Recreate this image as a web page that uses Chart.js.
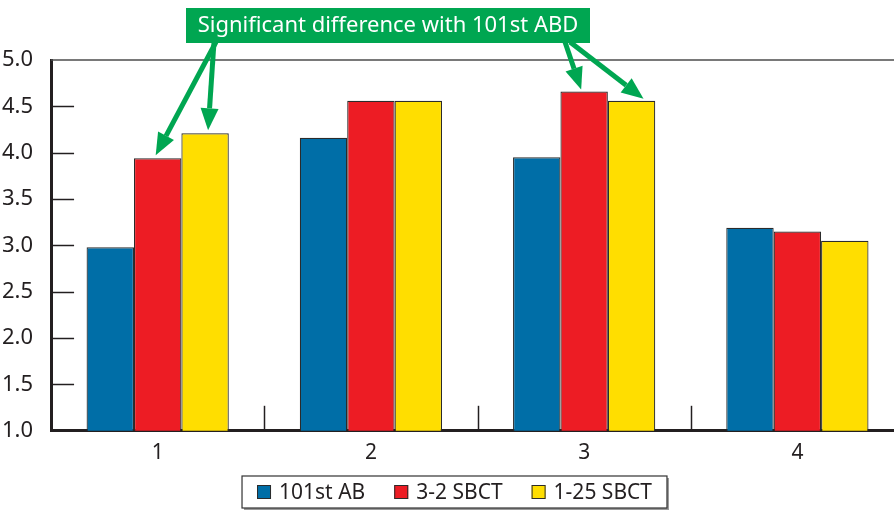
<!DOCTYPE html>
<html>
<head>
<meta charset="utf-8">
<script src="https://cdn.jsdelivr.net/npm/chart.js@4.4.1/dist/chart.umd.min.js"></script>
<style>
  html, body { margin: 0; padding: 0; background: #fff; overflow: hidden; }
  #wrap { width: 894px; height: 510px; overflow: hidden; }
</style>
</head>
<body>
<div id="wrap">
  <canvas id="js--chart" width="904" height="510" style="width:904px;height:510px"></canvas>
</div>
<script>
const categories = ["1", "2", "3", "4"];
const seriesNames = ["101st AB", "3-2 SBCT", "1-25 SBCT"];
const ab101 = [2.98, 4.16, 3.95, 3.19];
const sbct32 = [3.94, 4.56, 4.66, 3.15];
const sbct125 = [4.21, 4.56, 4.56, 3.05];
const noteText = "Significant difference with 101st ABD";

const ink = "#231f20";
const green = "#00a651";
const font = "'Noto Sans'";

// inward ticks on y, boundary ticks on x, thin top line
const axisExtras = {
  id: "axisExtras",
  afterDraw(chart) {
    const ctx = chart.ctx;
    const area = chart.chartArea;
    const x = chart.scales.x;
    const y = chart.scales.y;
    ctx.save();
    ctx.strokeStyle = "#4d4d4d";
    ctx.lineWidth = 1.5;
    ctx.beginPath();
    ctx.moveTo(area.left, area.top);
    ctx.lineTo(area.right, area.top);
    ctx.stroke();

    ctx.strokeStyle = ink;
    ctx.lineWidth = 1.5;
    y.ticks.forEach(function (t) {
      if (t.value <= y.min || t.value >= y.max) return;
      const py = Math.round(y.getPixelForValue(t.value)) + 0.5;
      ctx.beginPath();
      ctx.moveTo(area.left, py);
      ctx.lineTo(area.left + 23, py);
      ctx.stroke();
    });
    for (let i = 0; i < categories.length - 1; i++) {
      const px = Math.round((x.getPixelForValue(i) + x.getPixelForValue(i + 1)) / 2) + 0.5;
      ctx.beginPath();
      ctx.moveTo(px, area.bottom);
      ctx.lineTo(px, area.bottom - 25);
      ctx.stroke();
    }
    ctx.restore();
  }
};

function arrow(ctx, x1, y1, x2, y2) {
  const ang = Math.atan2(y2 - y1, x2 - x1);
  const headLen = 22, headW = 9;
  const bx = x2 - Math.cos(ang) * headLen;
  const by = y2 - Math.sin(ang) * headLen;
  ctx.beginPath();
  ctx.moveTo(x1, y1);
  ctx.lineTo(bx, by);
  ctx.stroke();
  ctx.beginPath();
  ctx.moveTo(x2, y2);
  ctx.lineTo(bx + Math.sin(ang) * headW, by - Math.cos(ang) * headW);
  ctx.lineTo(bx - Math.sin(ang) * headW, by + Math.cos(ang) * headW);
  ctx.closePath();
  ctx.fill();
}

// green note box with arrows to the bars
const note = {
  id: "note",
  afterDraw(chart) {
    const ctx = chart.ctx;
    const red = chart.getDatasetMeta(1).data;
    const yel = chart.getDatasetMeta(2).data;
    ctx.save();
    ctx.fillStyle = green;
    ctx.strokeStyle = green;
    ctx.lineWidth = 5;
    arrow(ctx, 216, 42, red[0].x - 2, red[0].y - 3);
    arrow(ctx, 214, 42, yel[0].x + 3, yel[0].y - 3);
    arrow(ctx, 565, 42, red[2].x - 3, red[2].y - 2);
    arrow(ctx, 570, 42, yel[2].x + 12, yel[2].y - 2);
    ctx.fillRect(186, 8, 404, 35);
    ctx.fillStyle = "#fff";
    ctx.font = "22px " + font;
    ctx.textAlign = "center";
    ctx.textBaseline = "middle";
    ctx.fillText(noteText, 388, 26);
    ctx.restore();
  }
};

// framed legend built from the datasets
const boxLegend = {
  id: "boxLegend",
  afterDraw(chart) {
    const ctx = chart.ctx;
    const sets = chart.data.datasets;
    ctx.save();
    ctx.font = "21px " + font;
    const sq = 14, gap = 8, spacing = 29;
    let total = 0;
    const widths = sets.map(function (d) { return ctx.measureText(d.label).width; });
    widths.forEach(function (w, i) { total += sq + gap + w + (i ? spacing : 0); });
    const cx = 454.5, cy = 492;
    const l = cx - total / 2 - 15, r = cx + total / 2 + 15;
    const t = 476, b = 508;
    ctx.fillStyle = "#9a9a9a";
    ctx.fillRect(l + 2, t + 2, r - l, b - t);
    ctx.fillStyle = "#fff";
    ctx.fillRect(l, t, r - l, b - t);
    ctx.strokeStyle = "#333";
    ctx.lineWidth = 1.2;
    ctx.strokeRect(l, t, r - l, b - t);

    let x = cx - total / 2;
    ctx.textBaseline = "middle";
    ctx.textAlign = "left";
    sets.forEach(function (d, i) {
      ctx.fillStyle = d.backgroundColor;
      ctx.fillRect(x, cy - sq / 2, sq, sq);
      ctx.strokeStyle = "#2b2b2b";
      ctx.lineWidth = 1;
      ctx.strokeRect(x + 0.5, cy - sq / 2 + 0.5, sq - 1, sq - 1);
      ctx.fillStyle = ink;
      ctx.fillText(d.label, x + sq + gap, cy + 1);
      x += sq + gap + widths[i] + spacing;
    });
    ctx.restore();
  }
};

const data = {
  labels: categories,
  datasets: [
    { label: seriesNames[0], data: ab101, backgroundColor: "#006ea7" },
    { label: seriesNames[1], data: sbct32, backgroundColor: "#ed1c24" },
    { label: seriesNames[2], data: sbct125, backgroundColor: "#ffde00" }
  ]
};
data.datasets.forEach(function (d) {
  d.borderColor = "#2b2b2b";
  d.borderWidth = 1.2;
  d.categoryPercentage = 0.667;
  d.barPercentage = 1.0;
});

const config = {
  type: "bar",
  data: data,
  options: {
    responsive: false,
    animation: false,
    layout: { padding: { left: -8, right: 0, top: 60, bottom: 42 } },
    plugins: {
      tooltip: { enabled: false },
      legend: { display: false }
    },
    scales: {
      x: {
        grid: { display: false },
        border: { display: true, color: ink, width: 3 },
        ticks: { color: ink, padding: 2, font: { family: font, size: 21 } }
      },
      y: {
        min: 1,
        max: 5,
        grid: { display: false },
        border: { display: true, color: ink, width: 3 },
        ticks: {
          stepSize: 0.5,
          padding: 10,
          color: ink,
          font: { family: font, size: 22 },
          callback: function (v) { return Number(v).toFixed(1); }
        }
      }
    }
  },
  plugins: [axisExtras, boxLegend, note]
};

const chart1 = new Chart(document.getElementById("js--chart"), config);
</script>
</body>
</html>
